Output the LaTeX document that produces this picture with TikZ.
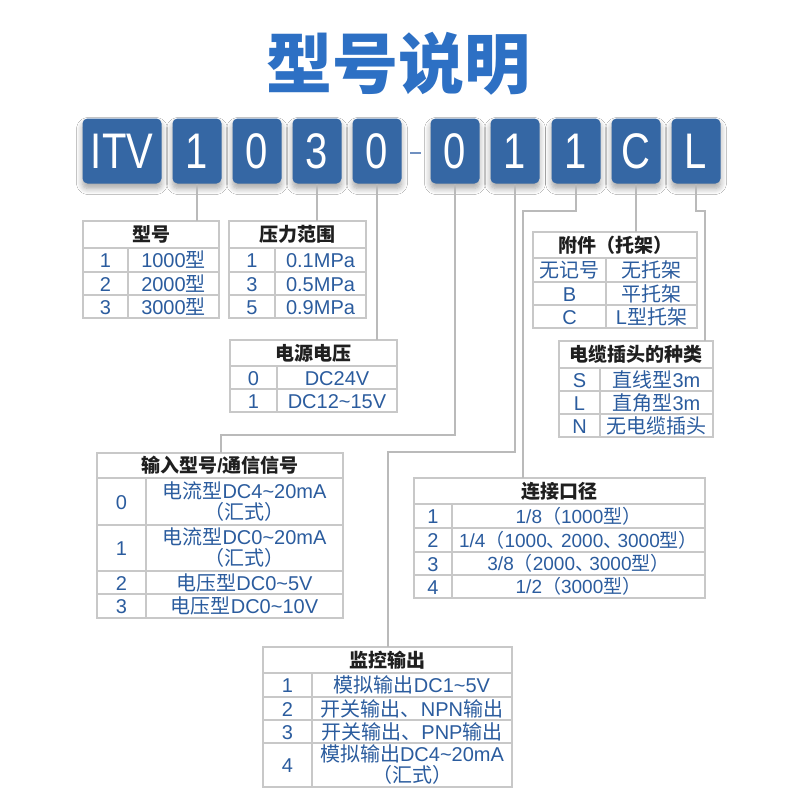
\documentclass[tikz,border=0pt]{standalone}
\usepackage{fontspec}
\setmainfont{Liberation Sans}
\newfontfamily\cjkfont{Noto Sans CJK SC}
\newfontfamily\latinfont{Liberation Sans}
\newfontfamily\codefont[FakeStretch=0.8]{Liberation Sans}
\newXeTeXintercharclass\CJKcls
\newcount\cjkc
\cjkc="3000\relax
\loop \XeTeXcharclass\cjkc=\CJKcls \advance\cjkc by 1 \ifnum\cjkc<"3040 \repeat
\cjkc="4E00\relax
\loop \XeTeXcharclass\cjkc=\CJKcls \advance\cjkc by 1 \ifnum\cjkc<"A000 \repeat
\cjkc="FF00\relax
\loop \XeTeXcharclass\cjkc=\CJKcls \advance\cjkc by 1 \ifnum\cjkc<"FFF0 \repeat
\XeTeXinterchartoks 0 \CJKcls = {\cjkfont}
\XeTeXinterchartoks 4095 \CJKcls = {\cjkfont}
\XeTeXinterchartoks \CJKcls 0 = {\latinfont}
\XeTeXinterchartoks \CJKcls 4095 = {\latinfont}
\usetikzlibrary{shadows.blur}
\definecolor{boxblue}{HTML}{3567A4}
\definecolor{titleblue}{HTML}{2D70C4}
\definecolor{bodyblue}{HTML}{2B5C9E}
\definecolor{tgray}{HTML}{C8C8C8}
\definecolor{cgray}{HTML}{BABABA}
\definecolor{dashblue}{HTML}{7090C0}
\newcommand\cellnode[7]{\node[#6, minimum width={#4-#2}, minimum height={#5-#3}] (#1) at ({(#2+#4)/2},{(#3+#5)/2}) {#7};}
\newcommand\nc{、\kern-0.25em }
\tikzset{
 cell/.style={draw=tgray, line width=1.3pt, inner sep=0pt, outer sep=0pt},
 hd/.style={cell, font=\fontsize{19}{20}\selectfont\bfseries, text=black!88, text height=16.7pt, text depth=2.3pt},
 bd/.style={cell, font=\fontsize{20}{21}\selectfont, text=bodyblue, text height=17.6pt, text depth=2.4pt},
 bds/.style={cell, font=\fontsize{19}{21}\selectfont, text=bodyblue, text height=16.7pt, text depth=2.3pt},
 bdm/.style={cell, font=\fontsize{20}{21}\selectfont, text=bodyblue, align=center},
 code/.style={fill=boxblue, rounded corners=5pt, text=white, font=\codefont\fontsize{50}{50}\selectfont, minimum height=65, inner sep=0pt, text height=42.9pt, text depth=7.1pt, blur shadow={shadow xshift=0pt, shadow yshift=-5pt, shadow blur steps=8, shadow blur radius=6pt, shadow opacity=35}},
 conn/.style={draw=cgray, line width=2pt},
}
\begin{document}
\begin{tikzpicture}[x=1pt,y=-1pt]
\XeTeXinterchartokenstate=1
\useasboundingbox[fill=white] (0,0) rectangle (800,800);
\node[font=\bfseries\fontsize{66}{66}\selectfont, text=titleblue, text height=58.1pt, text depth=7.9pt, inner sep=0pt] (title) at (398,63) {型号说明};
% code boxes
\node[code, minimum width=79] (b1) at (122,151) {ITV};
\node[code, minimum width=49] (b2) at (197,151) {1};
\node[code, minimum width=49] (b3) at (257,151) {0};
\node[code, minimum width=49] (b4) at (317,151) {3};
\node[code, minimum width=49] (b5) at (377,151) {0};
\node[code, minimum width=49] (b6) at (455,151) {0};
\node[code, minimum width=49] (b7) at (515,151) {1};
\node[code, minimum width=49] (b8) at (576,151) {1};
\node[code, minimum width=49] (b9) at (636,151) {C};
\node[code, minimum width=49] (b10) at (696,151) {L};
\coordinate (dsA) at (410,153);
\coordinate (dsB) at (421,153);
\draw[dashblue, line width=2pt] (dsA) -- (dsB);
% table: 型号
\cellnode{xh}{83}{221}{219}{248}{hd}{型号}
\cellnode{xa1}{83}{248}{128}{272}{bd}{1}
\cellnode{xb1}{128}{248}{219}{272}{bd}{1000型}
\cellnode{xa2}{83}{272}{128}{295}{bd}{2}
\cellnode{xb2}{128}{272}{219}{295}{bd}{2000型}
\cellnode{xa3}{83}{295}{128}{318}{bd}{3}
\cellnode{xb3}{128}{295}{219}{318}{bd}{3000型}
% table: 压力范围
\cellnode{ph}{229}{221}{366}{248}{hd}{压力范围}
\cellnode{pa1}{229}{248}{275}{272}{bd}{1}
\cellnode{pb1}{275}{248}{366}{272}{bd}{0.1MPa}
\cellnode{pa2}{229}{272}{275}{295}{bd}{3}
\cellnode{pb2}{275}{272}{366}{295}{bd}{0.5MPa}
\cellnode{pa3}{229}{295}{275}{318}{bd}{5}
\cellnode{pb3}{275}{295}{366}{318}{bd}{0.9MPa}
% table: 电源电压
\cellnode{vh}{230}{340}{397}{366}{hd}{电源电压}
\cellnode{va1}{230}{366}{277}{389}{bd}{0}
\cellnode{vb1}{277}{366}{397}{389}{bd}{DC24V}
\cellnode{va2}{230}{389}{277}{412}{bd}{1}
\cellnode{vb2}{277}{389}{397}{412}{bd}{DC12\textasciitilde15V}
% table: 附件（托架）
\cellnode{fh}{533}{232}{697}{258}{hd}{附件（托架）}
\cellnode{fa1}{533}{258}{606}{282}{bd}{无记号}
\cellnode{fb1}{606}{258}{697}{282}{bd}{无托架}
\cellnode{fa2}{533}{282}{606}{305}{bd}{B}
\cellnode{fb2}{606}{282}{697}{305}{bd}{平托架}
\cellnode{fa3}{533}{305}{606}{328}{bd}{C}
\cellnode{fb3}{606}{305}{697}{328}{bd}{L型托架}
% table: 电缆插头的种类
\cellnode{dh}{559}{341}{713}{368}{hd}{电缆插头的种类}
\cellnode{da1}{559}{368}{600}{391}{bd}{S}
\cellnode{db1}{600}{368}{713}{391}{bd}{直线型3m}
\cellnode{da2}{559}{391}{600}{414}{bd}{L}
\cellnode{db2}{600}{391}{713}{414}{bd}{直角型3m}
\cellnode{da3}{559}{414}{600}{437}{bd}{N}
\cellnode{db3}{600}{414}{713}{437}{bd}{无电缆插头}
% table: 输入型号/通信信号
\cellnode{ih}{97}{453}{343}{478}{hd}{输入型号/通信信号}
\cellnode{ia1}{97}{478}{146}{525}{bd}{0}
\cellnode{ib1}{146}{478}{343}{525}{bdm}{电流型DC4\textasciitilde20mA\\（汇式）}
\cellnode{ia2}{97}{525}{146}{571}{bd}{1}
\cellnode{ib2}{146}{525}{343}{571}{bdm}{电流型DC0\textasciitilde20mA\\（汇式）}
\cellnode{ia3}{97}{571}{146}{594}{bd}{2}
\cellnode{ib3}{146}{571}{343}{594}{bd}{电压型DC0\textasciitilde5V}
\cellnode{ia4}{97}{594}{146}{618}{bd}{3}
\cellnode{ib4}{146}{594}{343}{618}{bd}{电压型DC0\textasciitilde10V}
% table: 连接口径
\cellnode{lh}{414}{478}{705}{504}{hd}{连接口径}
\cellnode{la1}{414}{504}{452}{528}{bd}{1}
\cellnode{lb1}{452}{504}{705}{528}{bds}{1/8（1000型）}
\cellnode{la2}{414}{528}{452}{552}{bd}{2}
\cellnode{lb2}{452}{528}{705}{552}{bds}{1/4（1000\nc 2000\nc 3000型）}
\cellnode{la3}{414}{552}{452}{575}{bd}{3}
\cellnode{lb3}{452}{552}{705}{575}{bds}{3/8（2000\nc 3000型）}
\cellnode{la4}{414}{575}{452}{598}{bd}{4}
\cellnode{lb4}{452}{575}{705}{598}{bds}{1/2（3000型）}
% table: 监控输出
\cellnode{mh}{263}{647}{512}{673}{hd}{监控输出}
\cellnode{ma1}{263}{673}{312}{697}{bd}{1}
\cellnode{mb1}{312}{673}{512}{697}{bd}{模拟输出DC1\textasciitilde5V}
\cellnode{ma2}{263}{697}{312}{720}{bd}{2}
\cellnode{mb2}{312}{697}{512}{720}{bd}{开关输出、NPN输出}
\cellnode{ma3}{263}{720}{312}{743}{bd}{3}
\cellnode{mb3}{312}{720}{512}{743}{bd}{开关输出、PNP输出}
\cellnode{ma4}{263}{743}{312}{787}{bd}{4}
\cellnode{mb4}{312}{743}{512}{787}{bdm}{模拟输出DC4\textasciitilde20mA\\（汇式）}
% connectors
\coordinate (k4) at (221,435);
\coordinate (k5) at (388,452);
\coordinate (k6) at (523,211);
\coordinate (k8) at (705,211);
\draw[conn] (b2.south) -- (b2.south |- xh.north);
\draw[conn] (b4.south) -- (b4.south |- ph.north);
\draw[conn] (b5.south) -- (b5.south |- vh.north);
\draw[conn] (b6.south) |- (k4) -- (k4 |- ih.north);
\draw[conn] (b7.south) |- (k5) -- (k5 |- mh.north);
\draw[conn] (b8.south) |- (k6) -- (k6 |- lh.north);
\draw[conn] (b9.south) -- (b9.south |- fh.north);
\draw[conn] (b10.south) |- (k8) -- (k8 |- dh.north);
\end{tikzpicture}
\end{document}
